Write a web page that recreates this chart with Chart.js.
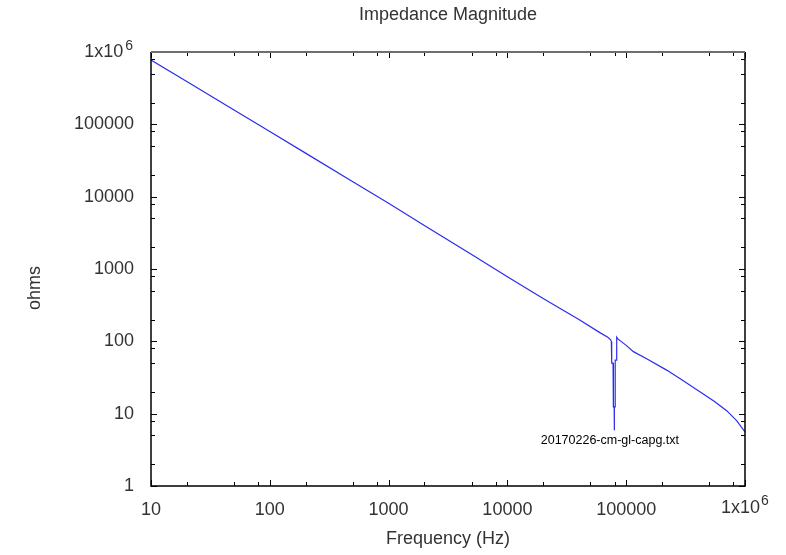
<!DOCTYPE html>
<html>
<head>
<meta charset="utf-8">
<script src="https://cdn.jsdelivr.net/npm/chart.js@4.4.1/dist/chart.umd.min.js"></script>
<style>
  html, body { margin: 0; padding: 0; background: #fff; }
  #wrap { width: 786px; height: 555px; position: relative; }
</style>
</head>
<body>
<div id="wrap"><canvas id="impChart"></canvas></div>
<script>
// frequency sweep (Hz) and impedance magnitude (ohms)
const freqHz = [
  10, 20, 50, 100, 200, 500, 1000, 2000, 5000, 10000, 20000, 40000, 60000, 70000,
  74000, 75000, 75500, 77500, 78000, 79200, 79400, 79600, 80500, 80800, 82800, 83200,
  85000, 100000, 115000, 150000, 219000, 300000, 417000, 550000, 701000, 850000, 1000000
];
const ohms = [
  776000, 392000, 158000, 79500, 40000, 16100, 8100, 4000, 1590, 780, 392, 200, 132, 114,
  105, 99, 50, 50, 12.4, 12.4, 5.9, 12.4, 12.4, 55, 55, 114,
  108, 88, 72, 57, 40, 28.7, 20.1, 14.8, 11.0, 8.0, 5.6
];
const xTicks = [10, 100, 1000, 10000, 100000, 1000000];
const yTicks = [1, 10, 100, 1000, 10000, 100000, 1000000];
const minorSteps = [2, 5, 8];
const chartTitle = "Impedance Magnitude";
const yTitle = "ohms";
const seriesLabel = "20170226-cm-gl-capg.txt";

const FONT = "'Liberation Sans', Arial, sans-serif";
const TXT = "#333333";

const points = freqHz.map((f, i) => ({ x: f, y: ohms[i] }));

function tickLabel(v){
    return v === 1000000 ? "" : String(v);
}

// frame, inner tick marks, titles, 1x10^6 labels and the key text
const framePlugin = {
    id: "frame",
    afterDraw(chart){
        const c = chart.ctx;
        const a = chart.chartArea;
        const xs = chart.scales.x;
        const ys = chart.scales.y;

        c.save();

        // ticks
        c.strokeStyle = "#000";
        c.lineWidth = 1;
        c.beginPath();
        xTicks.forEach((d, i) => {
            const steps = [1].concat(i < xTicks.length - 1 ? minorSteps : []);
            steps.forEach(m => {
                const px = Math.round(xs.getPixelForValue(d * m)) + 0.5;
                const len = m === 1 ? 6 : 4;
                c.moveTo(px, a.bottom); c.lineTo(px, a.bottom - len);
                c.moveTo(px, a.top); c.lineTo(px, a.top + len);
            });
        });
        yTicks.forEach((d, i) => {
            const steps = [1].concat(i < yTicks.length - 1 ? minorSteps : []);
            steps.forEach(m => {
                const py = Math.round(ys.getPixelForValue(d * m)) + 0.5;
                const len = m === 1 ? 6 : 4;
                c.moveTo(a.left, py); c.lineTo(a.left + len, py);
                c.moveTo(a.right, py); c.lineTo(a.right - len, py);
            });
        });
        c.stroke();

        // border
        c.lineWidth = 1.5;
        c.strokeStyle = "#000";
        c.beginPath();
        c.moveTo(a.left, a.top);
        c.lineTo(a.left, a.bottom);
        c.lineTo(a.right, a.bottom);
        c.lineTo(a.right, a.top);
        c.stroke();
        c.strokeStyle = "#6e6e6e";
        c.lineWidth = 2;
        c.beginPath();
        c.moveTo(a.left, a.top);
        c.lineTo(a.right, a.top);
        c.stroke();

        const big = "18px " + FONT;
        const small = "14px " + FONT;
        c.fillStyle = TXT;
        c.textBaseline = "middle";

        // chart title over the plot area
        c.font = big;
        c.textAlign = "center";
        c.fillText(chartTitle, (a.left + a.right) / 2, 15);

        // y axis title
        c.save();
        c.translate(35, a.top + 236);
        c.rotate(-Math.PI / 2);
        c.fillText(yTitle, 0, 0);
        c.restore();

        // 1x10^6 labels
        c.font = big;
        const wBase = c.measureText("1x10").width;
        c.font = small;
        const wSup = c.measureText("6").width;

        const xTop = xs.getPixelForValue(1000000);
        const xStart = xTop - (wBase + 1 + wSup) / 2;
        const yLab = a.bottom + 22;
        c.textAlign = "left";
        c.font = big;
        c.fillText("1x10", xStart, yLab);
        c.font = small;
        c.fillText("6", xStart + wBase + 1, yLab - 7);

        const yTop = ys.getPixelForValue(1000000);
        const right = a.left - 18;
        c.textAlign = "right";
        c.font = small;
        c.fillText("6", right, yTop - 6);
        c.font = big;
        c.fillText("1x10", right - wSup - 2, yTop);

        // key text
        c.fillStyle = "#000";
        c.font = "12.5px " + FONT;
        c.textAlign = "right";
        c.fillText(chart.data.datasets[0].label, a.right - 66, a.bottom - 45);

        c.restore();
    }
};

new Chart(document.getElementById("impChart"), {

    type: "line",

    data: {
        datasets: [
            {
                label: seriesLabel,
                data: points,
                borderColor: "#2b2bf0",
                borderWidth: 1.2,
                pointRadius: 0,
                tension: 0,
                fill: false
            }
        ]
    },

    options: {
        responsive: true,
        maintainAspectRatio: false,
        animation: false,
        events: [],
        layout: {
            padding: { left: 0, right: 41, top: 52, bottom: 0 }
        },
        plugins: {
            legend: { display: false },
            tooltip: { enabled: false },
            title: { display: false }
        },
        scales: {
            x: {
                type: "logarithmic",
                min: 10,
                max: 1000000,
                afterBuildTicks(s){ s.ticks = xTicks.map(v => ({ value: v })); },
                afterFit(s){ s.height = 69; },
                grid: { display: false, drawTicks: false },
                border: { display: false },
                ticks: {
                    color: TXT,
                    font: { family: FONT, size: 18 },
                    padding: 13,
                    maxRotation: 0,
                    autoSkip: false,
                    callback: tickLabel
                },
                title: {
                    display: true,
                    text: "Frequency (Hz)",
                    color: TXT,
                    font: { family: FONT, size: 18 },
                    padding: { top: 0, bottom: 5 }
                }
            },
            y: {
                type: "logarithmic",
                min: 1,
                max: 1000000,
                afterBuildTicks(s){ s.ticks = yTicks.map(v => ({ value: v })); },
                afterFit(s){ s.width = 151; },
                grid: { display: false, drawTicks: false },
                border: { display: false },
                ticks: {
                    color: TXT,
                    font: { family: FONT, size: 18 },
                    padding: 17,
                    autoSkip: false,
                    callback: tickLabel
                }
            }
        }
    },

    plugins: [framePlugin]

});
</script>
</body>
</html>
